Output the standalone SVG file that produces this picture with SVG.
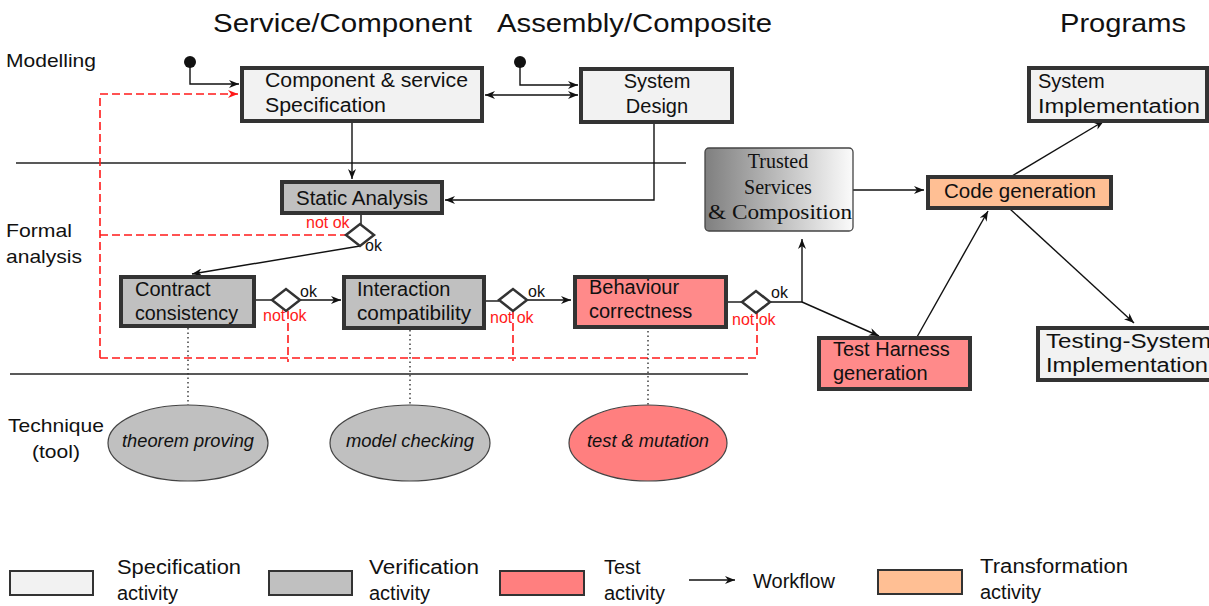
<svg xmlns="http://www.w3.org/2000/svg" width="1209" height="606" viewBox="0 0 1209 606">
<style>
text{font-family:"Liberation Sans",Arial,sans-serif;fill:#111}
.t{font-size:26px}
.n{font-size:20px}
.s{font-size:19px}
.lg{font-size:20px}
.ok{font-size:16px}
.red{fill:#ff1a1a}
.it{font-size:18px;font-style:italic}
.sf{font-family:"Liberation Serif","Times New Roman",serif;font-size:20px}
.box{stroke:#333;stroke-width:4}
.spec{fill:#f2f2f2}
.ver{fill:#c0c0c0}
.tst{fill:#ff8a8a}
.trf{fill:#ffbf94}
.wf{fill:none;stroke:#111;stroke-width:1.4}
.rd{fill:none;stroke:#ff1a1a;stroke-width:1.6;stroke-dasharray:8,4}
.dot{fill:none;stroke:#333;stroke-width:1.4;stroke-dasharray:1.5,3}
.sep{stroke:#222;stroke-width:1.4}
.dia{fill:#fff;stroke:#333;stroke-width:2.5}
.ell{stroke:#444;stroke-width:1.2}
.leg{stroke:#333;stroke-width:2}
</style>
<defs>
<marker id="a" viewBox="0 0 10 8" refX="10" refY="4" markerWidth="10" markerHeight="8" markerUnits="userSpaceOnUse" orient="auto-start-reverse">
<path d="M0,0 L10,4 L0,8 L3,4 z" fill="#111"/>
</marker>
<marker id="ar" viewBox="0 0 10 8" refX="10" refY="4" markerWidth="10" markerHeight="8" markerUnits="userSpaceOnUse" orient="auto">
<path d="M0,0 L10,4 L0,8 L3,4 z" fill="#ff1a1a"/>
</marker>
<linearGradient id="g" x1="0" y1="0" x2="1" y2="0">
<stop offset="0" stop-color="#7f7f7f"/>
<stop offset="1" stop-color="#fbfbfb"/>
</linearGradient>
</defs>
<rect width="1209" height="606" fill="#fff"/>

<g id="titles">
<text class="t" x="213" y="32" textLength="259" lengthAdjust="spacingAndGlyphs">Service/Component</text>
<text class="t" x="497" y="32" textLength="275" lengthAdjust="spacingAndGlyphs">Assembly/Composite</text>
<text class="t" x="1060" y="32" textLength="126" lengthAdjust="spacingAndGlyphs">Programs</text>
<text class="s" x="6" y="67" textLength="90" lengthAdjust="spacingAndGlyphs">Modelling</text>
<text class="s" x="6" y="237" textLength="66" lengthAdjust="spacingAndGlyphs">Formal</text>
<text class="s" x="6" y="263" textLength="76" lengthAdjust="spacingAndGlyphs">analysis</text>
<text class="s" x="8" y="432" textLength="96" lengthAdjust="spacingAndGlyphs">Technique</text>
<text class="s" x="32" y="458" textLength="48" lengthAdjust="spacingAndGlyphs">(tool)</text>
</g>

<g id="separators">
<line class="sep" x1="16" y1="163" x2="686" y2="163"/>
<line class="sep" x1="10" y1="374" x2="748" y2="374"/>
</g>

<g id="connectors">
<circle cx="190" cy="62" r="6" fill="#111"/>
<circle cx="520" cy="62" r="6" fill="#111"/>
<path class="wf" d="M190,62 V84 H239" marker-end="url(#a)"/>
<path class="wf" d="M520,62 V85 H578" marker-end="url(#a)"/>
<path class="wf" d="M485,95 H578" marker-start="url(#a)" marker-end="url(#a)"/>
<path class="wf" d="M352,122 V179" marker-end="url(#a)"/>
<path class="wf" d="M654,123 V200 H445" marker-end="url(#a)"/>
<path class="wf" d="M361,214 V224"/>
<path class="wf" d="M360,246 L192,274" marker-end="url(#a)"/>
<path class="wf" d="M255,300 H272"/>
<path class="wf" d="M300,300 H341" marker-end="url(#a)"/>
<path class="wf" d="M485,301 H499"/>
<path class="wf" d="M527,300 H571" marker-end="url(#a)"/>
<path class="wf" d="M727,302 H742"/>
<path class="wf" d="M770,302 H802 V239" marker-end="url(#a)"/>
<path class="wf" d="M802,302 L879,336" marker-end="url(#a)"/>
<path class="wf" d="M853,190 H924" marker-end="url(#a)"/>
<path class="wf" d="M1012,176 L1104,121" marker-end="url(#a)"/>
<path class="wf" d="M917,337 L988,211" marker-end="url(#a)"/>
<path class="wf" d="M1010,209 L1134,323" marker-end="url(#a)"/>
<path class="rd" d="M100,358 V94 H238" marker-end="url(#ar)"/>
<path class="rd" d="M100,235 H346"/>
<path class="rd" d="M100,358 H757 V313"/>
<path class="rd" d="M288,311 V362"/>
<path class="rd" d="M513,311 V361"/>
<path class="dot" d="M188,328 V406"/>
<path class="dot" d="M410,330 V406"/>
<path class="dot" d="M648,322 V406"/>
</g>

<g id="decisions">
<polygon class="dia" points="346,235 360,224 374,235 360,246"/>
<polygon class="dia" points="272,300 286,289 300,300 286,311"/>
<polygon class="dia" points="499,300 513,289 527,300 513,311"/>
<polygon class="dia" points="742,302 756,291 770,302 756,313"/>
<text class="ok red" x="306" y="228">not ok</text>
<text class="ok" x="365" y="251">ok</text>
<text class="ok" x="300" y="297">ok</text>
<text class="ok red" x="263" y="321">not ok</text>
<text class="ok" x="528" y="297">ok</text>
<text class="ok red" x="490" y="323">not ok</text>
<text class="ok" x="771" y="298">ok</text>
<text class="ok red" x="732" y="325">not ok</text>
</g>

<g id="comp-spec">
<rect class="box spec" x="242" y="68" width="240" height="53"/>
<text class="n" x="265" y="87" textLength="203" lengthAdjust="spacingAndGlyphs">Component &amp; service</text>
<text class="n" x="265" y="112" textLength="121" lengthAdjust="spacingAndGlyphs">Specification</text>
</g>

<g id="system-design">
<rect class="box spec" x="581" y="69" width="151" height="53"/>
<text class="n" x="657" y="88" text-anchor="middle">System</text>
<text class="n" x="657" y="113" text-anchor="middle">Design</text>
</g>

<g id="static-analysis">
<rect class="box ver" x="282" y="182" width="160" height="31"/>
<text class="n" x="362" y="205" text-anchor="middle" textLength="132" lengthAdjust="spacingAndGlyphs">Static Analysis</text>
</g>

<g id="contract">
<rect class="box ver" x="121" y="277" width="133" height="49"/>
<text class="n" x="135" y="296">Contract</text>
<text class="n" x="135" y="320" textLength="103" lengthAdjust="spacingAndGlyphs">consistency</text>
</g>

<g id="interaction">
<rect class="box ver" x="344" y="277" width="140" height="51"/>
<text class="n" x="357" y="296">Interaction</text>
<text class="n" x="357" y="320" textLength="114" lengthAdjust="spacingAndGlyphs">compatibility</text>
</g>

<g id="behaviour">
<rect class="box tst" x="575" y="277" width="151" height="50"/>
<text class="n" x="589" y="294">Behaviour</text>
<text class="n" x="589" y="318">correctness</text>
</g>

<g id="trusted">
<rect x="705" y="148" width="148" height="83" rx="4" fill="url(#g)" stroke="#444" stroke-width="1.3"/>
<text class="sf" x="778" y="168" text-anchor="middle">Trusted</text>
<text class="sf" x="778" y="194" text-anchor="middle">Services</text>
<text class="sf" x="780" y="219" text-anchor="middle" textLength="144" lengthAdjust="spacingAndGlyphs">&amp; Composition</text>
</g>

<g id="code-gen">
<rect class="box trf" x="928" y="177" width="183" height="31"/>
<text class="n" x="1020" y="198" text-anchor="middle" textLength="152" lengthAdjust="spacingAndGlyphs">Code generation</text>
</g>

<g id="sys-impl">
<rect class="box spec" x="1029" y="68" width="178" height="53"/>
<text class="n" x="1038" y="88">System</text>
<text class="n" x="1038" y="113" textLength="162" lengthAdjust="spacingAndGlyphs">Implementation</text>
</g>

<g id="test-harness">
<rect class="box tst" x="819" y="338" width="151" height="51"/>
<text class="n" x="833" y="356">Test Harness</text>
<text class="n" x="833" y="380">generation</text>
</g>

<g id="testing-sys">
<rect class="box spec" x="1038" y="328" width="178" height="52"/>
<text class="n" x="1046" y="348" textLength="165" lengthAdjust="spacingAndGlyphs">Testing-System</text>
<text class="n" x="1046" y="372" textLength="162" lengthAdjust="spacingAndGlyphs">Implementation</text>
</g>

<g id="theorem">
<ellipse class="ell" cx="188" cy="443" rx="80" ry="38" fill="#c0c0c0"/>
<text class="it" x="188" y="447" text-anchor="middle" textLength="132" lengthAdjust="spacingAndGlyphs">theorem proving</text>
</g>
<g id="model-checking">
<ellipse class="ell" cx="410" cy="443" rx="80" ry="38" fill="#c0c0c0"/>
<text class="it" x="410" y="447" text-anchor="middle" textLength="128" lengthAdjust="spacingAndGlyphs">model checking</text>
</g>
<g id="test-mutation">
<ellipse class="ell" cx="648" cy="443" rx="79" ry="38" fill="#ff7f7f"/>
<text class="it" x="648" y="447" text-anchor="middle" textLength="122" lengthAdjust="spacingAndGlyphs">test &amp; mutation</text>
</g>

<g id="legend">
<rect class="leg spec" x="10" y="571" width="83" height="24"/>
<text class="lg" x="117" y="574" textLength="124" lengthAdjust="spacingAndGlyphs">Specification</text>
<text class="lg" x="117" y="600">activity</text>
<rect class="leg ver" x="269" y="571" width="83" height="24"/>
<text class="lg" x="369" y="574" textLength="110" lengthAdjust="spacingAndGlyphs">Verification</text>
<text class="lg" x="369" y="600">activity</text>
<rect class="leg" x="500" y="571" width="84" height="24" fill="#ff7f7f"/>
<text class="lg" x="604" y="574">Test</text>
<text class="lg" x="604" y="600">activity</text>
<path class="wf" d="M689,580 H735" marker-end="url(#a)"/>
<text class="lg" x="753" y="588">Workflow</text>
<rect class="leg trf" x="878" y="570" width="84" height="24"/>
<text class="lg" x="980" y="573" textLength="148" lengthAdjust="spacingAndGlyphs">Transformation</text>
<text class="lg" x="980" y="599">activity</text>
</g>
</svg>
